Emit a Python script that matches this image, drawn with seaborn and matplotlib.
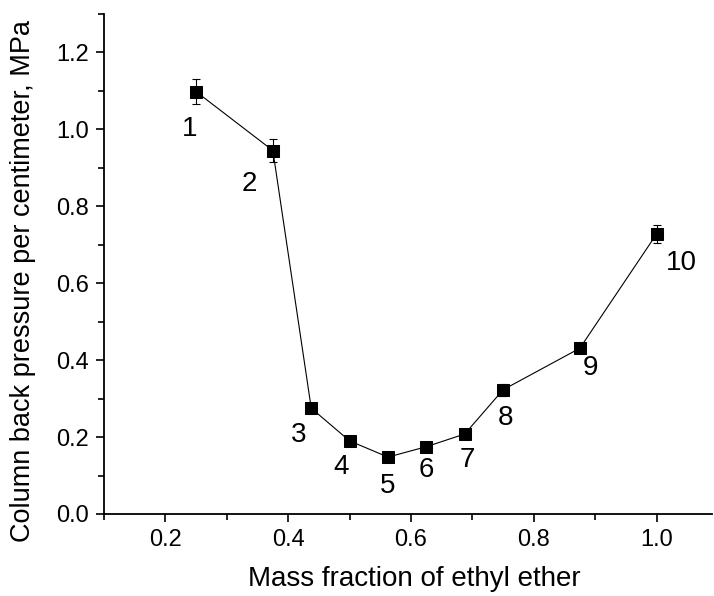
import numpy as np
import pandas as pd
import matplotlib
matplotlib.use("Agg")
import matplotlib.pyplot as plt
from matplotlib.ticker import MultipleLocator, FormatStrFormatter
import seaborn as sns

# data
mass_fraction = [0.25, 0.375, 0.4375, 0.5, 0.5625, 0.625, 0.6875, 0.75, 0.875, 1.0]
back_pressure = [1.098, 0.945, 0.275, 0.190, 0.148, 0.175, 0.208, 0.323, 0.431, 0.728]
pressure_err = [0.033, 0.029, 0.0, 0.0, 0.0, 0.0, 0.0, 0.015, 0.0, 0.023]
point_labels = ["1", "2", "3", "4", "5", "6", "7", "8", "9", "10"]
# label offsets (points) from each marker
label_dx = [-5, -17, -9, -6, 0, 0, 2, 2, 8, 18]
label_dy = [-27, -24, -19, -19, -21, -17, -19, -20, -14, -21]

df = pd.DataFrame({"x": mass_fraction, "y": back_pressure, "err": pressure_err})

sns.set_theme(style="ticks")
plt.rcParams["font.family"] = ["Liberation Sans", "DejaVu Sans"]

fig = plt.figure(figsize=(7.14, 5.96), dpi=100)
ax = fig.add_axes([0.1457, 0.1376, 0.8513, 0.8389])

ax.errorbar(df["x"], df["y"], yerr=df["err"], fmt="none", ecolor="black",
            elinewidth=0.8, capsize=3, capthick=0.8, zorder=2)
sns.lineplot(data=df, x="x", y="y", ax=ax, color="black", linewidth=0.8,
             marker="s", markersize=8.5, markeredgecolor="black",
             markerfacecolor="black", zorder=3)

for xv, yv, lab, dx, dy in zip(df["x"], df["y"], point_labels, label_dx, label_dy):
    ax.annotate(lab, (xv, yv), xytext=(dx, dy), textcoords="offset points",
                ha="center", va="center", fontsize=20, color="black")

ax.set_xlim(0.1, 1.09)
ax.set_ylim(0.0, 1.3)
ax.xaxis.set_major_locator(MultipleLocator(0.2))
ax.xaxis.set_minor_locator(MultipleLocator(0.1))
ax.yaxis.set_major_locator(MultipleLocator(0.2))
ax.yaxis.set_minor_locator(MultipleLocator(0.1))
ax.xaxis.set_major_formatter(FormatStrFormatter("%.1f"))
ax.yaxis.set_major_formatter(FormatStrFormatter("%.1f"))

ax.tick_params(which="major", direction="out", length=6, width=1.2,
               labelsize=17, colors="black", pad=5)
ax.tick_params(which="minor", direction="out", length=4, width=1.2, colors="black")
for s in ["left", "bottom"]:
    ax.spines[s].set_linewidth(1.3)
    ax.spines[s].set_color("black")
sns.despine(ax=ax)

ax.set_xlabel("Mass fraction of ethyl ether", fontsize=20, color="black")
ax.set_ylabel("Column back pressure per centimeter, MPa", fontsize=19.5, color="black")
ax.xaxis.set_label_coords(0.51, -0.105)
ax.yaxis.set_label_coords(-0.112, 0.466)

fig.savefig("out.png", dpi=100)
